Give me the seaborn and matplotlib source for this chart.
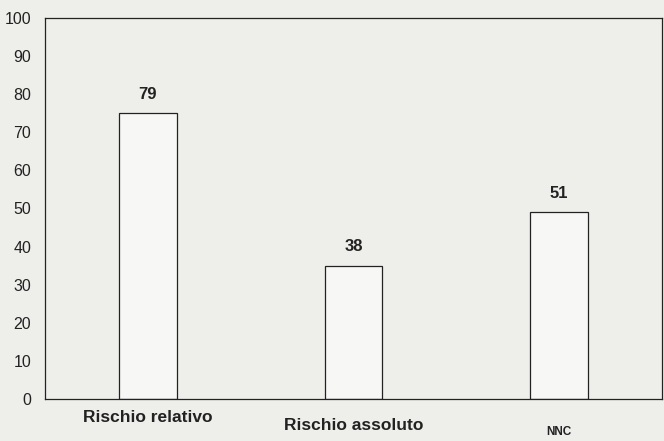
import matplotlib
matplotlib.use("Agg")
import matplotlib.pyplot as plt
import matplotlib.transforms as mtransforms
import seaborn as sns
import pandas as pd

categories = ["Rischio relativo", "Rischio assoluto", "NNC"]
bar_heights = [75, 35, 49]
value_labels = ["79", "38", "51"]
y_ticks = [0, 10, 20, 30, 40, 50, 60, 70, 80, 90, 100]

df = pd.DataFrame({"cat": categories, "val": bar_heights})

sns.set_theme(style="white")
plt.rcParams['font.family'] = ['Liberation Sans', 'DejaVu Sans']

bg = "#eeeeeb"
fig = plt.figure(figsize=(6.64, 4.41), dpi=100, facecolor=bg)
ax = fig.add_axes([0.068, 0.095, 0.929, 0.865])
ax.set_facecolor(bg)

sns.barplot(data=df, x="cat", y="val", ax=ax, width=0.28,
            color="#f7f7f5", edgecolor="#222222", linewidth=0.9)

for i, (h, lab) in enumerate(zip(bar_heights, value_labels)):
    ax.text(i, h + 3.0, lab, ha="center", va="bottom", fontsize=12,
            fontweight="bold", color="#222222")

ax.set_ylim(0, 100)
ax.set_xlim(-0.5, 2.5)
ax.set_yticks(y_ticks)
ax.set_yticklabels([str(t) for t in y_ticks], fontsize=11.5, color="#222222")
ax.tick_params(axis="y", length=0, pad=10)
ax.tick_params(axis="x", length=0, pad=8)
ax.set_xticklabels(categories, fontweight="bold", color="#222222")
xl = ax.get_xticklabels()
sizes = [12.5, 12.5, 8.5]
drops = [0, 8, 16]
for lab, sz, d in zip(xl, sizes, drops):
    lab.set_fontsize(sz)
    lab.set_transform(lab.get_transform() +
                      mtransforms.ScaledTranslation(0, -d / 100, fig.dpi_scale_trans))
ax.set_xlabel("")
ax.set_ylabel("")
for s in ax.spines.values():
    s.set_visible(True)
    s.set_color("#222222")
    s.set_linewidth(0.9)

fig.savefig("out.png", dpi=100, facecolor=bg)
